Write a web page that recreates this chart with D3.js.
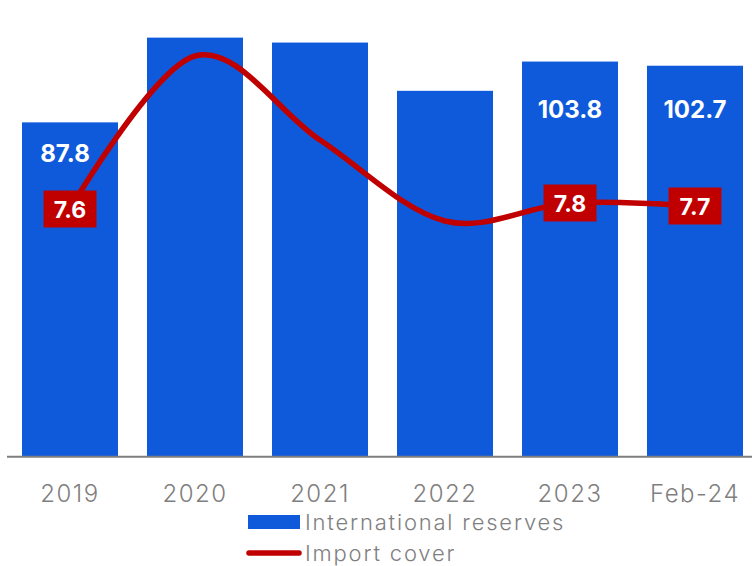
<!DOCTYPE html>
<html>
<head>
<meta charset="utf-8">
<script src="https://cdn.jsdelivr.net/npm/d3@7"></script>
<style>
  body { margin: 0; background: #fff; }
  svg { display: block; font-family: Inter, "Open Sans", sans-serif; }
</style>
</head>
<body>
<svg id="chart" width="752" height="566"></svg>
<script>
// data
const categories = ["2019", "2020", "2021", "2022", "2023", "Feb-24"];
const reserves = [87.8, 110.1, 108.8, 96.1, 103.8, 102.7];      // bars (USD bn)
const importCover = [7.6, 12.7, 9.9, 7.2, 7.8, 7.7];           // line (months)
const reserveLabels = ["87.8", null, null, null, "103.8", "102.7"];
const coverLabels = ["7.6", null, null, null, "7.8", "7.7"];
const legendItems = ["International reserves", "Import cover"];

const BLUE = "#0e5adb", RED = "#c00000", GREY = "#7f7f7f";

const svg = d3.select("#chart");

const x = d3.scaleBand()
    .domain(categories)
    .range([7.5, 757.5])
    .paddingInner(0.232)
    .paddingOuter(0.116);
const y = d3.scaleLinear().domain([0, 120]).range([456, 0]);
const y2 = d3.scaleLinear().domain([0, 14]).range([437, 17]);
const cx = d => x(d) + x.bandwidth() / 2;

// bars
svg.append("g")
    .selectAll("rect")
    .data(categories)
    .join("rect")
    .attr("x", d => x(d))
    .attr("y", (d, i) => y(reserves[i]))
    .attr("width", x.bandwidth())
    .attr("height", (d, i) => y(0) - y(reserves[i]))
    .attr("fill", BLUE);

// x axis
const xAxis = svg.append("g")
    .attr("transform", "translate(0,456.7)")
    .call(d3.axisBottom(x).tickSize(0).tickPadding(0));
xAxis.select(".domain").remove();
xAxis.append("line")
    .attr("x1", 7).attr("x2", 752)
    .attr("stroke", GREY).attr("stroke-width", 2);
xAxis.selectAll(".tick text")
    .attr("y", 45)
    .attr("dy", null)
    .attr("fill", GREY)
    .attr("font-family", "Inter, sans-serif")
    .attr("font-weight", 300)
    .attr("font-size", 24)
    .attr("letter-spacing", 1.5);

// bar labels (hand-placed in the original)
const barLabelDy = [40, 0, 0, 0, 56, 52.5];
const barLabelDx = [-5, 0, 0, 0, 0, 0];
svg.append("g")
    .selectAll("text")
    .data(categories.filter((d, i) => reserveLabels[i]))
    .join("text")
    .attr("x", d => cx(d) + barLabelDx[categories.indexOf(d)])
    .attr("y", d => { const i = categories.indexOf(d); return y(reserves[i]) + barLabelDy[i]; })
    .attr("text-anchor", "middle")
    .attr("fill", "#fff")
    .attr("font-weight", 700)
    .attr("font-size", 24)
    .text(d => reserveLabels[categories.indexOf(d)]);

// import cover line (uniform catmull-rom, like Excel's smoothing)
const line = d3.line()
    .x((d, i) => cx(categories[i]))
    .y(d => y2(d))
    .curve(d3.curveCatmullRom.alpha(0));
svg.append("path")
    .datum(importCover)
    .attr("d", line)
    .attr("fill", "none")
    .attr("stroke", RED)
    .attr("stroke-width", 5.5)
    .attr("stroke-linejoin", "round");

// line labels in red boxes
const boxW = 53, boxH = 37;
const coverG = svg.append("g")
    .selectAll("g")
    .data(categories.filter((d, i) => coverLabels[i]))
    .join("g")
    .attr("transform", d => `translate(${cx(d)},${y2(importCover[categories.indexOf(d)])})`);
coverG.append("rect")
    .attr("x", -boxW / 2).attr("y", -boxH / 2)
    .attr("width", boxW).attr("height", boxH)
    .attr("fill", RED);
coverG.append("text")
    .attr("y", 8.5)
    .attr("text-anchor", "middle")
    .attr("fill", "#fff")
    .attr("font-weight", 700)
    .attr("font-size", 23)
    .text(d => coverLabels[categories.indexOf(d)]);

// legend
const legend = svg.append("g").attr("transform", "translate(248,0)");
legend.append("rect")
    .attr("x", 0).attr("y", 515)
    .attr("width", 52).attr("height", 14)
    .attr("fill", BLUE);
legend.append("line")
    .attr("x1", 1).attr("x2", 51)
    .attr("y1", 553).attr("y2", 553)
    .attr("stroke", RED).attr("stroke-width", 5.5)
    .attr("stroke-linecap", "round");
legend.selectAll("text")
    .data(legendItems)
    .join("text")
    .attr("x", 57)
    .attr("y", (d, i) => 530 + i * 31)
    .attr("fill", GREY)
    .attr("font-weight", 300)
    .attr("font-size", 22)
    .attr("letter-spacing", 1.8)
    .text(d => d);
</script>
</body>
</html>
